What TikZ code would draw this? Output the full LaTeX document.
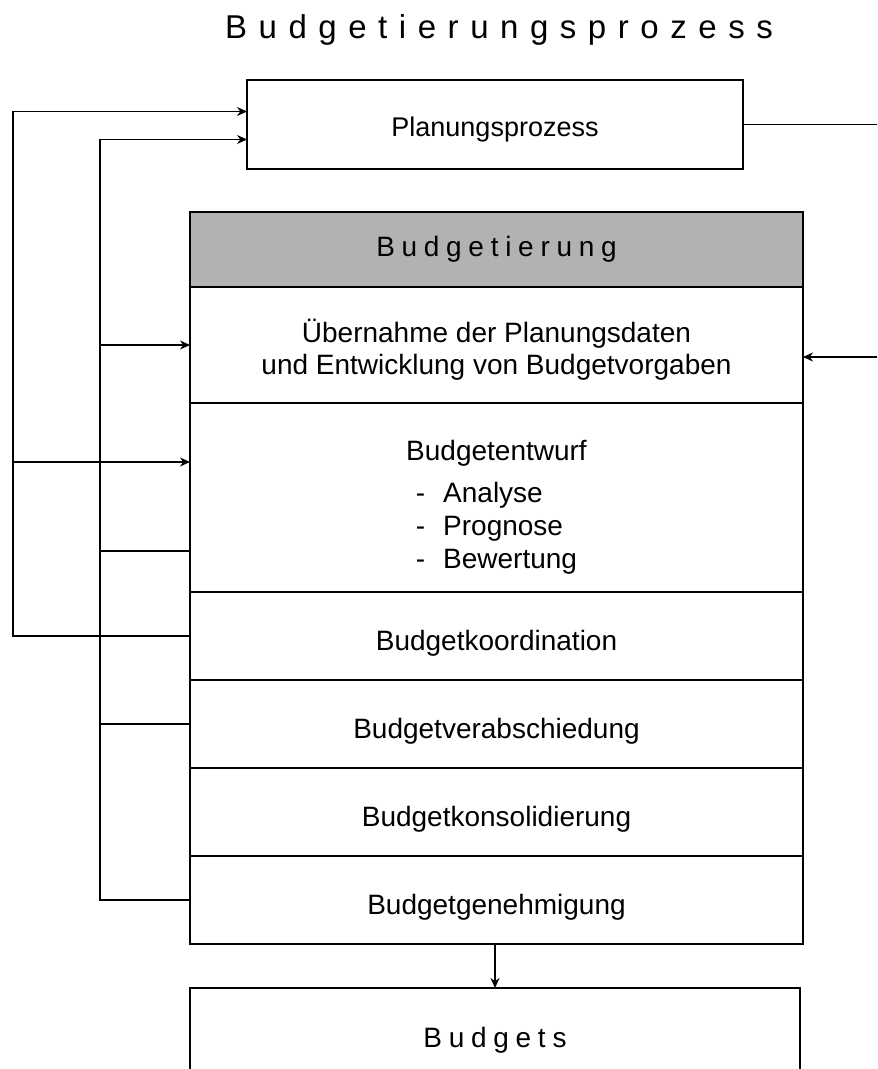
\documentclass[tikz,border=0pt]{standalone}
\usepackage{fontspec}
\usetikzlibrary{arrows.meta}
\setmainfont{Liberation Sans}
\newfontfamily\spacedfont[LetterSpace=24]{Liberation Sans}
\newfontfamily\titlefont[LetterSpace=35]{Liberation Sans}

\tikzset{
    row/.style={draw, minimum width=306.5pt, inner sep=0pt, outer sep=0pt,
        align=center, font=\fontsize{14}{16}\selectfont},
    oneline/.style={row, minimum height=44pt, text height=14pt, text depth=0pt},
    headbox/.style={row, fill=black!30, line width=1.3pt, minimum height=37.5pt,
        font=\fontsize{14}{16}\spacedfont},
    rowtext/.style={inner sep=0pt, align=center, font=\fontsize{14}{16}\selectfont},
}

\begin{document}
\begin{tikzpicture}[x=0.5pt, y=-0.5pt, >={Stealth[length=5pt,width=4.5pt]}, line width=0.6pt]
    \useasboundingbox (0,0) rectangle (877,1069);

    \node (title) at (499,30) {\fontsize{16.5}{20}\titlefont Budgetierungsprozess};

    \node[row, minimum width=248pt, minimum height=44.5pt, text height=12pt, text depth=0pt,
        font=\fontsize{13.5}{16}\selectfont] (plan) at (495,124.5) {Planungsprozess};

    \node[headbox] (head) at (496.5,249.5) {Budgetierung};
    \node[row, minimum height=58pt] (uebern) at (496.5,345) {};
    \node[rowtext] (uebern-text) at ([yshift=-2.5pt]uebern.center)
        {Übernahme der Planungsdaten\\und Entwicklung von Budgetvorgaben};
    \node[row, minimum height=94.5pt] (entwurf) at (496.5,497.5) {};
    \node[rowtext] (entwurf-text) at ([yshift=-6pt]entwurf.center)
        {Budgetentwurf\\[6pt]
         \begin{tabular}{@{}l@{\hspace{9pt}}l@{}}
            - & Analyse\\[0.5pt]
            - & Prognose\\[0.5pt]
            - & Bewertung
         \end{tabular}};
    \node[oneline] (koord) at (496.5,636) {Budgetkoordination};
    \node[oneline] (verab) at (496.5,724) {Budgetverabschiedung};
    \node[oneline] (konsol) at (496.5,812) {Budgetkonsolidierung};
    \node[oneline] (genehm) at (496.5,900) {Budgetgenehmigung};

    \node[row, draw=none, minimum width=305pt, minimum height=52pt,
        font=\fontsize{14}{16}\spacedfont] (budgets) at (495,1040) {Budgets};

    % loop coordinates
    \coordinate (outer) at (13,0);
    \coordinate (inner) at (100,0);
    \coordinate (edge) at (877,1069);
    \coordinate (e-in) at ([yshift=17.75pt]entwurf.west);
    \coordinate (e-out) at ([yshift=-26.75pt]entwurf.west);
    \coordinate (r-in) at ([yshift=-6pt]uebern.east);

    % feedback to Planungsprozess
    \draw[->] (koord.west) -- (koord.west -| outer) |- ([yshift=6.5pt]plan.west);
    \draw[->] (e-in -| outer) -- (e-in);
    \draw[->] (genehm.west) -- (genehm.west -| inner) |- ([yshift=-7.5pt]plan.west);
    \draw (verab.west) -- (verab.west -| inner);
    \draw (e-out) -- (e-out -| inner);
    \draw[->] (uebern.west -| inner) -- (uebern.west);

    % right side
    \draw (plan.east) -- (plan.east -| edge);
    \draw[->] (r-in -| edge) -- (r-in);

    % Budgets
    \draw[->] (genehm.south -| budgets) -- (budgets.north);
    \draw (budgets.north west |- edge) -- (budgets.north west) -- (budgets.north east) -- (budgets.north east |- edge);
\end{tikzpicture}
\end{document}
